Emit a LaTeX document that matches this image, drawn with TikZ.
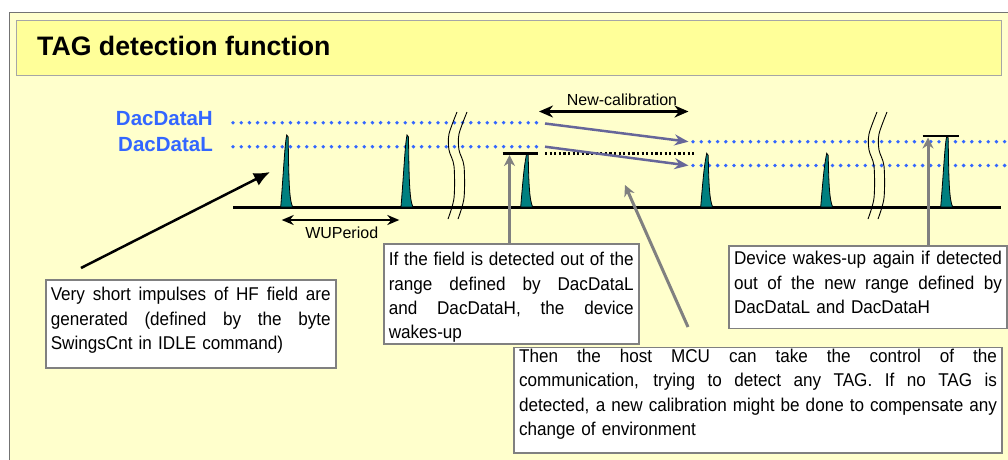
\documentclass[tikz,border=0pt]{standalone}
\usepackage{fontspec}
\setmainfont{Liberation Sans}
\newfontfamily\notefont[FakeStretch=0.925]{Liberation Sans}
\usetikzlibrary{arrows.meta}
\definecolor{paleyellow}{HTML}{FFFFCC}
\definecolor{titleyellow}{HTML}{FFFF99}
\definecolor{framegray}{HTML}{808080}
\definecolor{levelblue}{HTML}{3366FF}
\definecolor{pulseteal}{HTML}{008080}
\definecolor{calpurple}{HTML}{666699}
\tikzset{>={Stealth[length=11pt,width=11pt]}}
\tikzset{
	level/.style={levelblue, line width=3.8pt, line cap=round, dash pattern=on 0pt off 8.2pt},
	levelname/.style={anchor=base east, inner sep=0pt, text=levelblue, font=\bfseries\fontsize{20.5}{24}\selectfont},
	note/.style={draw=framegray, line width=1.5pt, fill=white, anchor=north west, inner xsep=5pt, inner ysep=3pt, align=left, font=\notefont\fontsize{18.5}{24.3}\selectfont},
	span/.style={inner sep=0pt, font=\fontsize{16}{19}\selectfont},
	pulse/.style={draw=black, fill=pulseteal, line width=0.8pt},
	bar/.style={line width=2.5pt},
	breakline/.style={line width=0.9pt},
	pointer/.style={->, framegray, line width=3pt},
	levelshift/.style={->, calpurple, line width=2.5pt, >={Stealth[length=14pt,width=11pt]}},
}
\newcommand{\fillline}[2]{\leavevmode\hbox to #1pt{\spaceskip=0.25em plus 1fil\relax #2}}
\newcommand{\pulse}[2]{%
	\draw[pulse] (#1,207) .. controls (#1+3,170) and (#1+4,#2+10) .. (#1+6,#2) -- (#1+7.5,#2+2) .. controls (#1+8,180) and (#1+8.5,200) .. (#1+12,207) -- cycle;}
\newcommand{\axisbreak}[1]{%
	\draw[breakline] plot[smooth, tension=0.5] coordinates {(#1+457,112) (#1+449,134) (#1+449,150) (#1+454,166) (#1+454,198) (#1+448,219)};
	\draw[breakline] plot[smooth, tension=0.5] coordinates {(#1+467,112) (#1+459,134) (#1+459,150) (#1+464,166) (#1+464,198) (#1+458,219)};}

\begin{document}
\begin{tikzpicture}[x=1pt, y=-1pt]

	\clip (0,0) rectangle (1008,459);
	\draw[framegray!90!black, fill=paleyellow, line width=1pt] (9,12) rectangle (1020,470);
	\draw[framegray!70, fill=titleyellow, line width=1pt] (16,20) rectangle (1001,75);

	\node[anchor=base west, inner sep=0pt, font=\bfseries\fontsize{26.7}{30}\selectfont](title) at (37,55) {TAG detection function};

	% Levels

	\node[levelname](dach) at (213,125) {DacDataH};
	\node[levelname](dacl) at (213,151) {DacDataL};

	\draw[level] (233,122.7) -- (540,122.7);
	\draw[level] (233,146.7) -- (540,146.7);
	\draw[level] (693,141.7) -- (1012,141.7);
	\draw[level] (693,165.5) -- (1012,165.5);

	\draw[line width=2.5pt, dash pattern=on 2.2pt off 2.4pt] (545,153.3) -- (694,153.3);

	% Time axis and pulses

	\draw[line width=3pt] (233,207) -- (1001,207);
	\axisbreak{0}
	\axisbreak{420}

	\pulse{280.7}{135}
	\pulse{401}{135}
	\pulse{520.7}{153.3}
	\pulse{700.7}{153.3}
	\pulse{820.7}{153.3}
	\pulse{940.7}{136}

	\draw[bar] (502.7,153.3) -- (538.3,153.3);
	\draw[bar] (922.7,136) -- (959,136);

	\coordinate (hitlow) at (509.5,155);
	\coordinate (hithigh) at (928,137.5);

	% Descriptions

	\node[note, text width=280, text height=18, text depth=64](impulses) at (45,279) {\fillline{280}{Very short impulses of HF field are}\\ \fillline{280}{generated (defined by the byte}\\ SwingsCnt in IDLE command)};

	\node[note, text width=245, text height=18.7, text depth=75.3](wakeup) at (383,243.3) {\fillline{245}{If the field is detected out of the}\\ \fillline{245}{range defined by DacDataL}\\ \fillline{245}{and DacDataH, the device}\\ wakes-up};

	\node[note, text width=268, text height=16, text depth=60.7](again) at (728.3,245) {\fillline{268}{Device wakes-up again if detected}\\ \fillline{268}{out of the new range defined by}\\ DacDataL and DacDataH};

	\node[note, text width=478, text height=12, text depth=87.6](host) at (513.3,346.7) {\fillline{478}{Then the host MCU can take the control of the}\\ \fillline{478}{communication, trying to detect any TAG. If no TAG is}\\ \fillline{478}{detected, a new calibration might be done to compensate any}\\ change of environment};

	\node[span, anchor=base](wulabel) at (341.7,238.3) {WUPeriod};
	\node[span, anchor=base](callabel) at (622,105.5) {New-calibration};

	% Arrows

	\coordinate (wuleft) at (281.7,220);
	\coordinate (wuright) at (399.3,220);
	\coordinate (calleft) at (539,111.5);
	\coordinate (calright) at (688.5,111.5);
	\coordinate (impfrom) at (81,268);
	\coordinate (impto) at (270,172);
	\coordinate (hostfrom) at (688,327);
	\coordinate (hostto) at (625,185);
	\coordinate (oldh) at (545,123.5);
	\coordinate (newh) at (688.5,141.7);
	\coordinate (oldl) at (545,146.7);
	\coordinate (newl) at (688.5,165.5);

	\draw[{Stealth[length=12pt,width=10pt]}-{Stealth[length=12pt,width=10pt]}, line width=2pt] (wuleft) to (wuright);
	\draw[{Stealth[length=14pt,width=12pt]}-{Stealth[length=14pt,width=12pt]}, line width=2.5pt] (calleft) to (calright);

	\draw[-{Latex[length=16pt,width=14pt]}, line width=2.5pt] (impfrom) to (impto);

	\draw[pointer] (wakeup.north -| hitlow) to (hitlow);
	\draw[pointer] (again.north -| hithigh) to (hithigh);
	\draw[pointer] (hostfrom) to (hostto);

	\draw[levelshift] (oldh) to (newh);
	\draw[levelshift] (oldl) to (newl);

\end{tikzpicture}
\end{document}
